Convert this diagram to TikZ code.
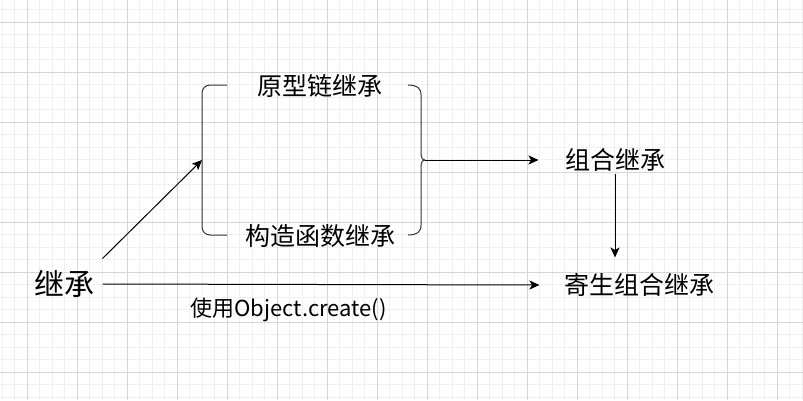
\documentclass[tikz,border=0pt]{standalone}
\usepackage{fontspec}
\setmainfont{Noto Sans CJK SC}
\usetikzlibrary{arrows.meta}
\begin{document}
\begin{tikzpicture}[x=1pt, y=-1pt,
        line width=1pt,
        txt/.style = {inner sep=0pt,
            font=\fontsize{25pt}{30pt}\selectfont},
        arrow/.style = {-{Stealth[length=10pt, width=9pt, inset=2.5pt]}},
        gridminor/.style = {line width=0.8pt, black!6},
        gridmajor/.style = {line width=0.8pt, black!16}]

        \useasboundingbox (0,0) rectangle (803,400);
        \fill[white] (0,0) rectangle (803,400);

        % Grid
        \foreach \x in {2.3, 14.8, ..., 803} \draw[gridminor] (\x,0) -- (\x,400);
        \foreach \y in {-2.7, 9.8, ..., 400} \draw[gridminor] (0,\y) -- (803,\y);
        \foreach \x in {27.3, 77.3, ..., 803} \draw[gridmajor] (\x,0) -- (\x,400);
        \foreach \y in {22.3, 72.3, ..., 400} \draw[gridmajor] (0,\y) -- (803,\y);

        % Start
        \node[txt, font=\fontsize{30pt}{36pt}\selectfont,
            minimum width=76pt, minimum height=50pt] (jc) at (64,284) {继承};

        % Grouped ways
        \node[txt] (yx) at (320,86) {原型链继承};
        \node[txt] (gz) at (320,236) {构造函数继承};
        \coordinate (lmid) at (202,160);
        \coordinate (tip) at (425,160);

        % Results
        \node[txt, minimum width=152pt, minimum height=26pt] (zh) at (615,160) {组合继承};
        \node[txt, minimum width=198pt, minimum height=54pt] (jszh) at (639,285) {寄生组合继承};

        % Edge label
        \node[txt, font=\fontsize{22pt}{26pt}\selectfont] (oc) at (288.5,310) {使用Object.create()};

        % Brackets
        \draw[black!80, rounded corners=8pt] (227,85) -- (202,85) -- (202,235) -- (227,235);
        \draw[black!80] (408,85) .. controls (417,85) and (421,88) .. (421,95) -- (421,152)
            .. controls (421,157) and (422,160) .. (tip);
        \draw[black!80] (408,235) .. controls (417,235) and (421,232) .. (421,225) -- (421,168)
            .. controls (421,163) and (422,160) .. (tip);

        % Arrows
        \draw[arrow] (jc.north east) -- (lmid);
        \draw[arrow] (tip) -- (zh.west);
        \draw[arrow] (zh.south) -- (zh.south |- jszh.north);
        \draw[arrow] (jc.east) -- (jszh.west);

    \end{tikzpicture}
\end{document}
